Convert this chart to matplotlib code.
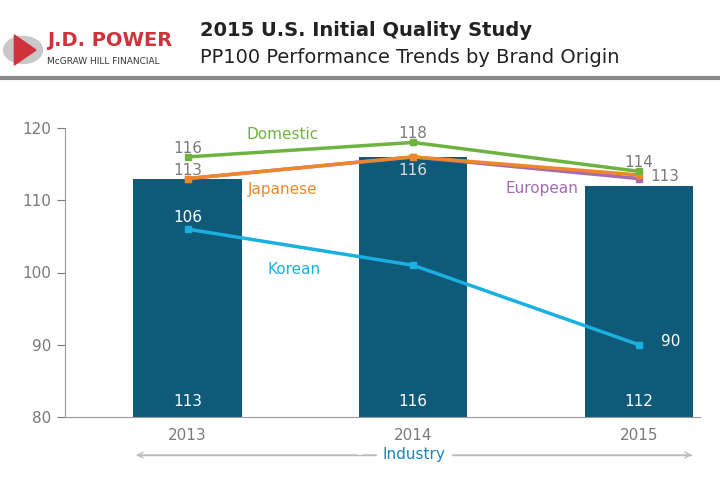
import matplotlib.pyplot as plt
from matplotlib.patches import Wedge, Polygon

years = ["2013", "2014", "2015"]
industry = [113, 116, 112]
domestic = [116, 118, 114]
japanese = [113, 116, 113.5]
european = [113, 116, 113]
korean = [106, 101, 90]

BAR = "#0e5a78"
GREEN = "#6db33f"
ORANGE = "#f0862a"
PURPLE = "#a36cb0"
BLUE = "#1ab0e0"
GREY = "#7a7a7a"

fig = plt.figure(figsize=(7.2, 5.0), dpi=100)
ax = fig.add_axes([0.09, 0.166, 0.882, 0.578])
x = range(len(years))

ax.bar(x, industry, width=0.48, color=BAR, zorder=1)
for xi, v in zip(x, industry):
    ax.text(xi, 81.5, str(v), color="white", ha="center", fontsize=11)

series = [
    (european, PURPLE), (japanese, ORANGE), (domestic, GREEN), (korean, BLUE)
]
for vals, c in series:
    ax.plot(x, vals, color=c, lw=2.5, marker="s", ms=5, zorder=3)

ax.text(0, 116.6, "116", color=GREY, ha="center", fontsize=11)
ax.text(0, 113.5, "113", color=GREY, ha="center", fontsize=11)
ax.text(1, 118.6, "118", color=GREY, ha="center", fontsize=11)
ax.text(1, 113.5, "116", color="#dddddd", ha="center", fontsize=11)
ax.text(2, 114.6, "114", color=GREY, ha="center", fontsize=11)
ax.text(2.05, 112.6, "113", color=GREY, ha="left", fontsize=11)
ax.text(0, 107, "106", color="white", ha="center", fontsize=11)
ax.text(1, 102, "101", color=BAR, ha="center", fontsize=11)
ax.text(2.1, 89.8, "90", color="white", ha="left", fontsize=11)

ax.text(0.42, 118.5, "Domestic", color=GREEN, ha="center", fontsize=11)
ax.text(0.42, 110.9, "Japanese", color=ORANGE, ha="center", fontsize=11)
ax.text(1.57, 111.0, "European", color=PURPLE, ha="center", fontsize=11)
ax.text(0.47, 99.8, "Korean", color=BLUE, ha="center", fontsize=11)

ax.set_ylim(80, 120)
ax.set_xlim(-0.544, 2.27)
ax.set_yticks([80, 90, 100, 110, 120])
ax.set_xticks(list(x), years)
ax.tick_params(colors=GREY, labelsize=11, length=6)
ax.tick_params(axis="x", length=0, pad=8)
for s in ["top", "right"]:
    ax.spines[s].set_visible(False)
for s in ["left", "bottom"]:
    ax.spines[s].set_color("#999999")

# Industry arrow
fig.add_artist(plt.Line2D([0.19, 0.96], [0.09, 0.09], color="#bbbbbb", lw=1))
ax.annotate("", xy=(0.185, 0.09), xytext=(0.5, 0.09), xycoords="figure fraction",
            arrowprops=dict(arrowstyle="->", color="#bbbbbb", lw=1))
ax.annotate("", xy=(0.965, 0.09), xytext=(0.5, 0.09), xycoords="figure fraction",
            arrowprops=dict(arrowstyle="->", color="#bbbbbb", lw=1))
fig.text(0.575, 0.09, "Industry", color="#1f86b3", ha="center", va="center",
         fontsize=11, backgroundcolor="white")

# header
fig.add_artist(plt.Line2D([0, 1], [0.845, 0.845], color="#888888", lw=3))
fig.text(0.278, 0.94, "2015 U.S. Initial Quality Study", fontsize=14,
         fontweight="bold", color="#222222", va="center")
fig.text(0.278, 0.885, "PP100 Performance Trends by Brand Origin", fontsize=14,
         color="#222222", va="center")
fig.text(0.065, 0.92, "J.D. POWER", fontsize=14, fontweight="bold",
         color="#d0323c", va="center")
fig.text(0.065, 0.878, "McGRAW HILL FINANCIAL", fontsize=6.5, color="#333333",
         va="center")
fig.add_artist(Wedge((0.032, 0.9), 0.027, 0, 360, color="#c8c8c8",
                     transform=fig.transFigure))
fig.add_artist(Polygon([(0.02, 0.87), (0.05, 0.9), (0.02, 0.93)], color="#d0323c",
                       transform=fig.transFigure))

fig.savefig("out.png", dpi=100)
